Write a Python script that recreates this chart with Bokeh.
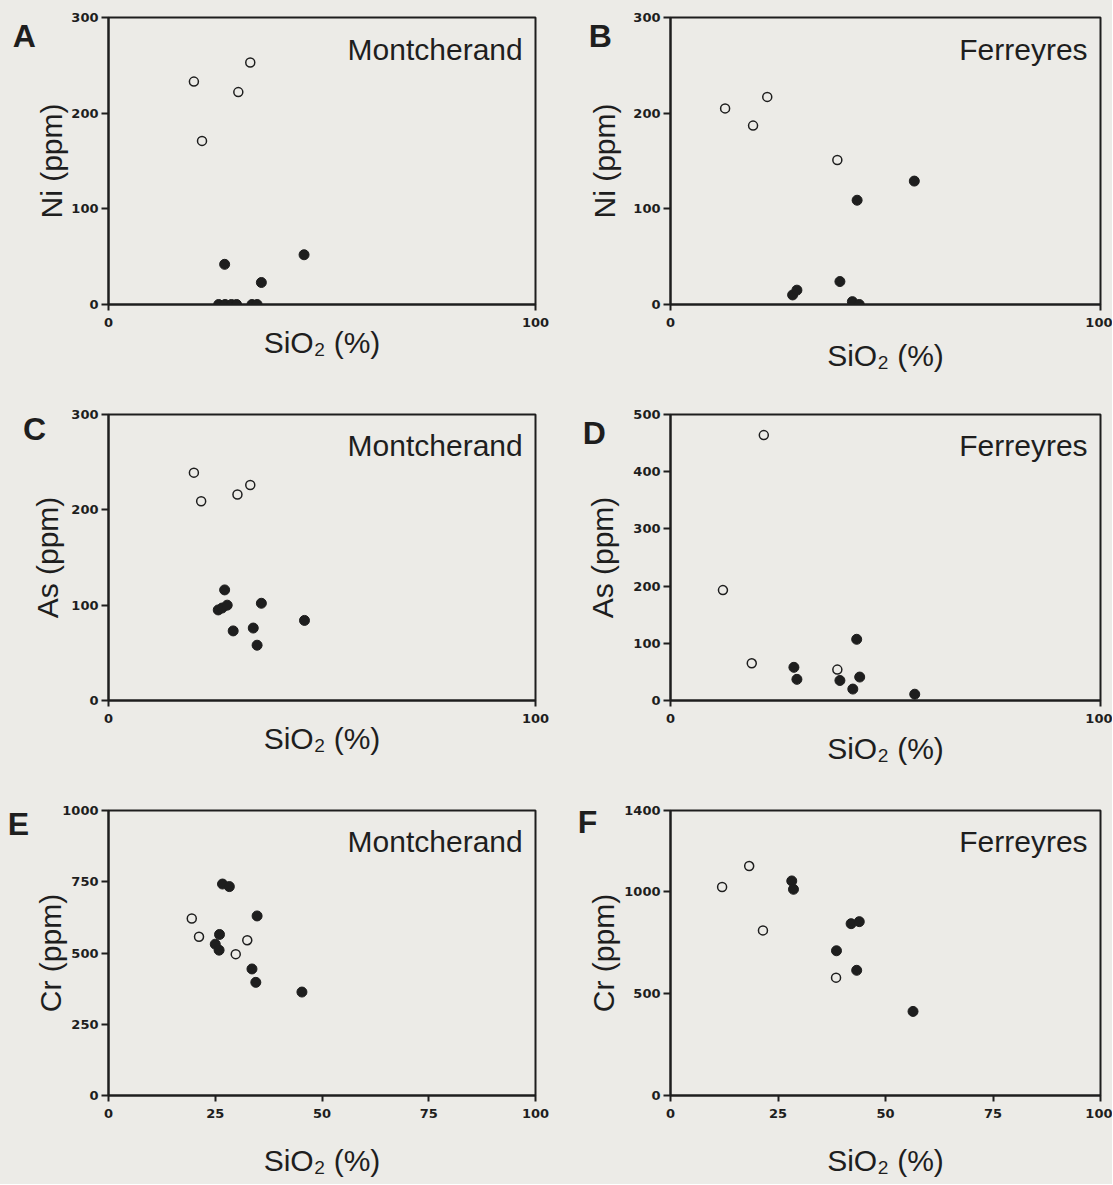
from bokeh.plotting import figure
from bokeh.layouts import column, row
from bokeh.models import Range1d, FixedTicker, Label
from bokeh.embed import file_html
from bokeh.resources import INLINE

# ---------------- data ----------------
# Panel A: Ni vs SiO2, Montcherand
A_open_x = [20.0, 21.9, 30.4, 33.2]
A_open_y = [233, 171, 222, 253]
A_fill_x = [27.2, 45.8, 35.8, 25.8, 27.3, 28.8, 30.0, 33.6, 34.8]
A_fill_y = [42, 52, 23, 0, 0, 0, 0, 0, 0]

# Panel B: Ni vs SiO2, Ferreyres
B_open_x = [12.7, 19.2, 22.5, 38.8]
B_open_y = [205, 187, 217, 151]
B_fill_x = [56.7, 43.4, 39.4, 28.4, 29.4, 42.3, 43.9]
B_fill_y = [129, 109, 24, 10, 15, 3, 0]

# Panel C: As vs SiO2, Montcherand
C_open_x = [20.0, 21.7, 30.2, 33.2]
C_open_y = [239, 209, 216, 226]
C_fill_x = [27.2, 25.7, 26.6, 27.8, 35.8, 29.2, 33.9, 34.8, 45.9]
C_fill_y = [116, 95, 97, 100, 102, 73, 76, 58, 84]

# Panel D: As vs SiO2, Ferreyres
D_open_x = [21.7, 12.2, 18.9, 38.8]
D_open_y = [464, 193, 65, 54]
D_fill_x = [43.3, 28.7, 29.4, 39.4, 44.0, 42.4, 56.8]
D_fill_y = [107, 58, 37, 35, 41, 20, 11]

# Panel E: Cr vs SiO2, Montcherand
E_open_x = [19.5, 21.2, 29.8, 32.5]
E_open_y = [621, 557, 496, 545]
E_fill_x = [26.7, 28.3, 34.8, 26.0, 25.0, 25.9, 33.6, 34.5, 45.3]
E_fill_y = [742, 733, 630, 565, 531, 510, 444, 397, 363]

# Panel F: Cr vs SiO2, Ferreyres
F_open_x = [12.0, 18.3, 21.5, 38.5]
F_open_y = [1024, 1127, 811, 579]
F_fill_x = [28.2, 28.6, 42.0, 43.9, 38.6, 43.3, 56.4]
F_fill_y = [1054, 1013, 844, 854, 711, 615, 413]

X_TICKS_SHORT = [0, 100]
X_TICKS_FULL = [0, 25, 50, 75, 100]
Y_TICKS_300 = [0, 100, 200, 300]
Y_TICKS_500 = [0, 100, 200, 300, 400, 500]
Y_TICKS_1000 = [0, 250, 500, 750, 1000]
Y_TICKS_1400 = [0, 500, 1000, 1400]

XLABEL = "SiO\u2082 (%)"

# ---------------- style ----------------
BG = "#ecebe7"
INK = "#1e1e1e"
LABEL_FONT = "Liberation Sans"
TICK_FONT = "DejaVu Sans"


def make_panel(letter, site, ylabel, ymax, yticks, xticks,
               ox, oy, fx, fy, width, height, bl, br, bt, bb,
               xl_stand, yl_stand, letter_fx, letter_fy):
    p = figure(width=width, height=height,
               x_range=Range1d(0, 100), y_range=Range1d(0, ymax),
               output_backend="svg", toolbar_location=None,
               min_border_left=bl, min_border_right=br,
               min_border_top=bt, min_border_bottom=bb)
    p.background_fill_color = BG
    p.border_fill_color = BG
    p.outline_line_color = INK
    p.outline_line_width = 2
    p.xgrid.visible = False
    p.ygrid.visible = False

    for ax, ticks in ((p.xaxis[0], xticks), (p.yaxis[0], yticks)):
        ax.ticker = FixedTicker(ticks=ticks)
        ax.minor_tick_line_color = None
        ax.major_tick_in = 0
        ax.axis_line_color = INK
        ax.axis_line_width = 2
        ax.major_tick_line_color = INK
        ax.major_tick_line_width = 2
        ax.major_label_text_font = TICK_FONT
        ax.major_label_text_font_style = "bold"
        ax.major_label_text_font_size = "13px"
        ax.major_label_text_color = INK
        ax.axis_label_text_font = LABEL_FONT
        ax.axis_label_text_font_style = "normal"
        ax.axis_label_text_font_size = "30px"
        ax.axis_label_text_color = INK

    p.xaxis[0].major_tick_out = 6
    p.xaxis[0].major_label_standoff = 7
    p.xaxis[0].axis_label = XLABEL
    p.xaxis[0].axis_label_standoff = xl_stand

    p.yaxis[0].major_tick_out = 7
    p.yaxis[0].major_label_standoff = 3
    p.yaxis[0].axis_label = ylabel
    p.yaxis[0].axis_label_standoff = yl_stand

    p.scatter(ox, oy, marker="circle", size=9, fill_color=None,
              line_color=INK, line_width=1.5)
    p.scatter(fx, fy, marker="circle", size=10, fill_color=INK,
              line_color=INK, line_width=1)

    # site name, upper right inside the frame
    p.add_layout(Label(x=97, y=ymax * (1 - 0.11), text=site,
                       text_font=LABEL_FONT, text_font_size="30px",
                       text_align="right", text_baseline="middle",
                       text_color=INK))
    # panel letter, in the left margin (side panel, so it is not clipped)
    p.add_layout(Label(x=100 * letter_fx, y=ymax * (1 - letter_fy), text=letter,
                       text_font=LABEL_FONT, text_font_size="32px",
                       text_font_style="bold",
                       text_align="center", text_baseline="middle",
                       text_color=INK), "left")
    return p


LW, RW = 560, 552
pA = make_panel("A", "Montcherand", "Ni (ppm)", 300, Y_TICKS_300, X_TICKS_SHORT,
                A_open_x, A_open_y, A_fill_x, A_fill_y,
                LW, 406, 108, 25, 17, 102, -4, 0, -0.197, 0.063)
pB = make_panel("B", "Ferreyres", "Ni (ppm)", 300, Y_TICKS_300, X_TICKS_SHORT,
                B_open_x, B_open_y, B_fill_x, B_fill_y,
                RW, 406, 110, 12, 17, 102, 9, 9, -0.163, 0.066)
pC = make_panel("C", "Montcherand", "As (ppm)", 300, Y_TICKS_300, X_TICKS_SHORT,
                C_open_x, C_open_y, C_fill_x, C_fill_y,
                LW, 396, 108, 25, 8, 102, -4, 4, -0.173, 0.049)
pD = make_panel("D", "Ferreyres", "As (ppm)", 500, Y_TICKS_500, X_TICKS_SHORT,
                D_open_x, D_open_y, D_fill_x, D_fill_y,
                RW, 396, 110, 12, 8, 102, 6, 11, -0.177, 0.066)
pE = make_panel("E", "Montcherand", "Cr (ppm)", 1000, Y_TICKS_1000, X_TICKS_FULL,
                E_open_x, E_open_y, E_fill_x, E_fill_y,
                LW, 382, 108, 25, 8, 89, 23, -8, -0.211, 0.049)
pF = make_panel("F", "Ferreyres", "Cr (ppm)", 1400, Y_TICKS_1400, X_TICKS_FULL,
                F_open_x, F_open_y, F_fill_x, F_fill_y,
                RW, 382, 110, 12, 8, 89, 23, 1, -0.193, 0.042)

bg_style = {"background-color": BG}
layout = column(row(pA, pB, styles=bg_style), row(pC, pD, styles=bg_style),
                row(pE, pF, styles=bg_style), styles=bg_style)
open("out.html", "w").write(file_html(layout, INLINE))
